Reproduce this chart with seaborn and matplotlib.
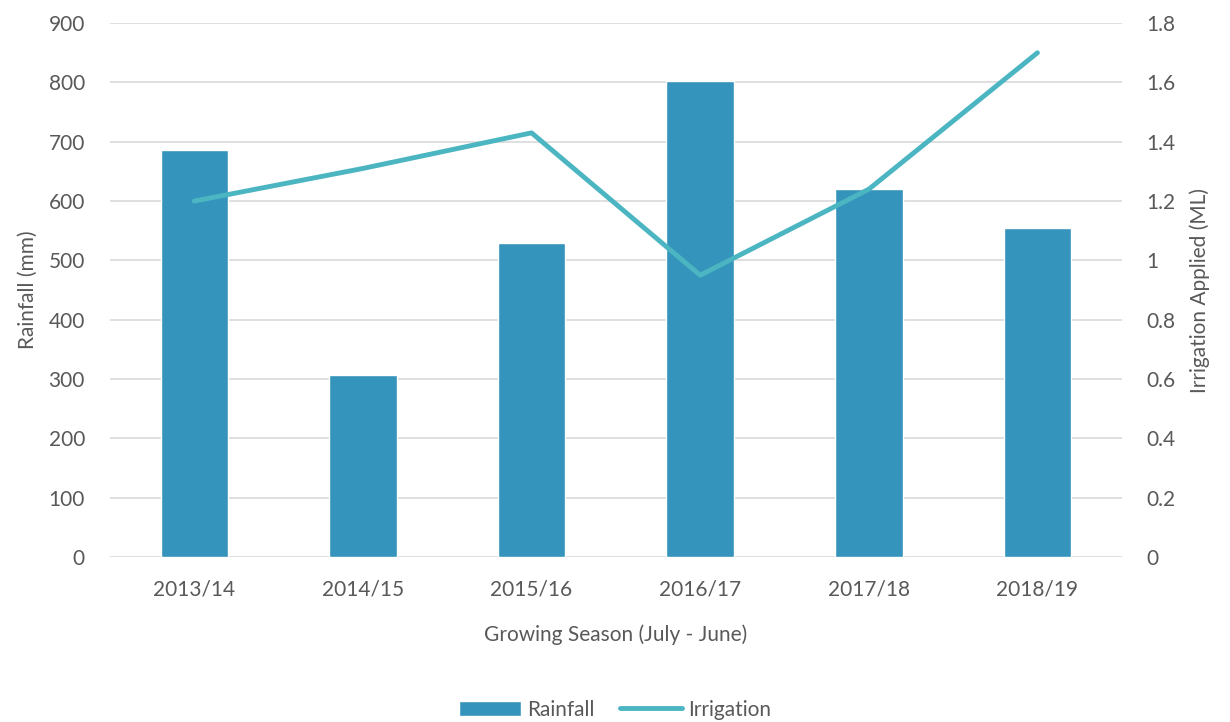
import matplotlib
matplotlib.use("Agg")
import matplotlib.pyplot as plt
import seaborn as sns
import pandas as pd
from matplotlib.patches import Patch
from matplotlib.lines import Line2D

seasons = ["2013/14", "2014/15", "2015/16", "2016/17", "2017/18", "2018/19"]
rainfall = [686, 307, 529, 802, 620, 554]
irrigation = [1.20, 1.31, 1.43, 0.95, 1.24, 1.70]

df = pd.DataFrame({"Season": seasons, "Rainfall": rainfall, "Irrigation": irrigation})

sns.set_theme(style="white")
plt.rcParams['font.family'] = ['Lato', 'DejaVu Sans']
text_color = "#595959"
bar_color = "#3594BC"
line_color = "#4BB5C1"
grid_color = "#D9D9D9"
fs = 15

fig = plt.figure(figsize=(12.3, 7.22), dpi=100)
ax = fig.add_axes([0.0894, 0.2285, 0.8226, 0.7395])

sns.barplot(data=df, x="Season", y="Rainfall", color=bar_color, width=0.4,
            saturation=1, ax=ax, zorder=2)
ax.set_ylim(0, 900)
ax.set_yticks(range(0, 901, 100))
ax.set_xlim(-0.5, 5.5)
ax.grid(axis="y", color=grid_color, linewidth=1.2, zorder=0)
ax.set_axisbelow(True)
for s in ax.spines.values():
    s.set_visible(False)
ax.tick_params(axis="y", length=0, colors=text_color, labelsize=fs, pad=18)
ax.tick_params(axis="x", length=0, colors=text_color, labelsize=fs, pad=16)
ax.set_ylabel("Rainfall (mm)", color=text_color, fontsize=fs, labelpad=8)
ax.set_xlabel("Growing Season (July - June)", color=text_color, fontsize=fs, labelpad=18)

ax2 = ax.twinx()
sns.lineplot(x=list(range(len(seasons))), y=irrigation, color=line_color,
             linewidth=3.5, ax=ax2, zorder=3)
ax2.set_ylim(0, 1.8)
ax2.set_yticks([0, 0.2, 0.4, 0.6, 0.8, 1.0, 1.2, 1.4, 1.6, 1.8])
ax2.set_yticklabels(["0", "0.2", "0.4", "0.6", "0.8", "1", "1.2", "1.4", "1.6", "1.8"])
ax2.set_xlim(-0.5, 5.5)
for s in ax2.spines.values():
    s.set_visible(False)
ax2.tick_params(axis="y", length=0, colors=text_color, labelsize=fs, pad=18)
ax2.set_ylabel("Irrigation Applied (ML)", color=text_color, fontsize=fs, labelpad=10)
ax2.grid(False)

handles = [Patch(facecolor=bar_color, label="Rainfall"),
           Line2D([0], [0], color=line_color, linewidth=3.5, label="Irrigation")]
fig.legend(handles=handles, loc="center", bbox_to_anchor=(0.5, 0.017), ncol=2,
           frameon=False, fontsize=fs, labelcolor=text_color,
           handlelength=3.0, handleheight=0.8, columnspacing=1.2, handletextpad=0.3)

fig.savefig("out.png", dpi=100)
